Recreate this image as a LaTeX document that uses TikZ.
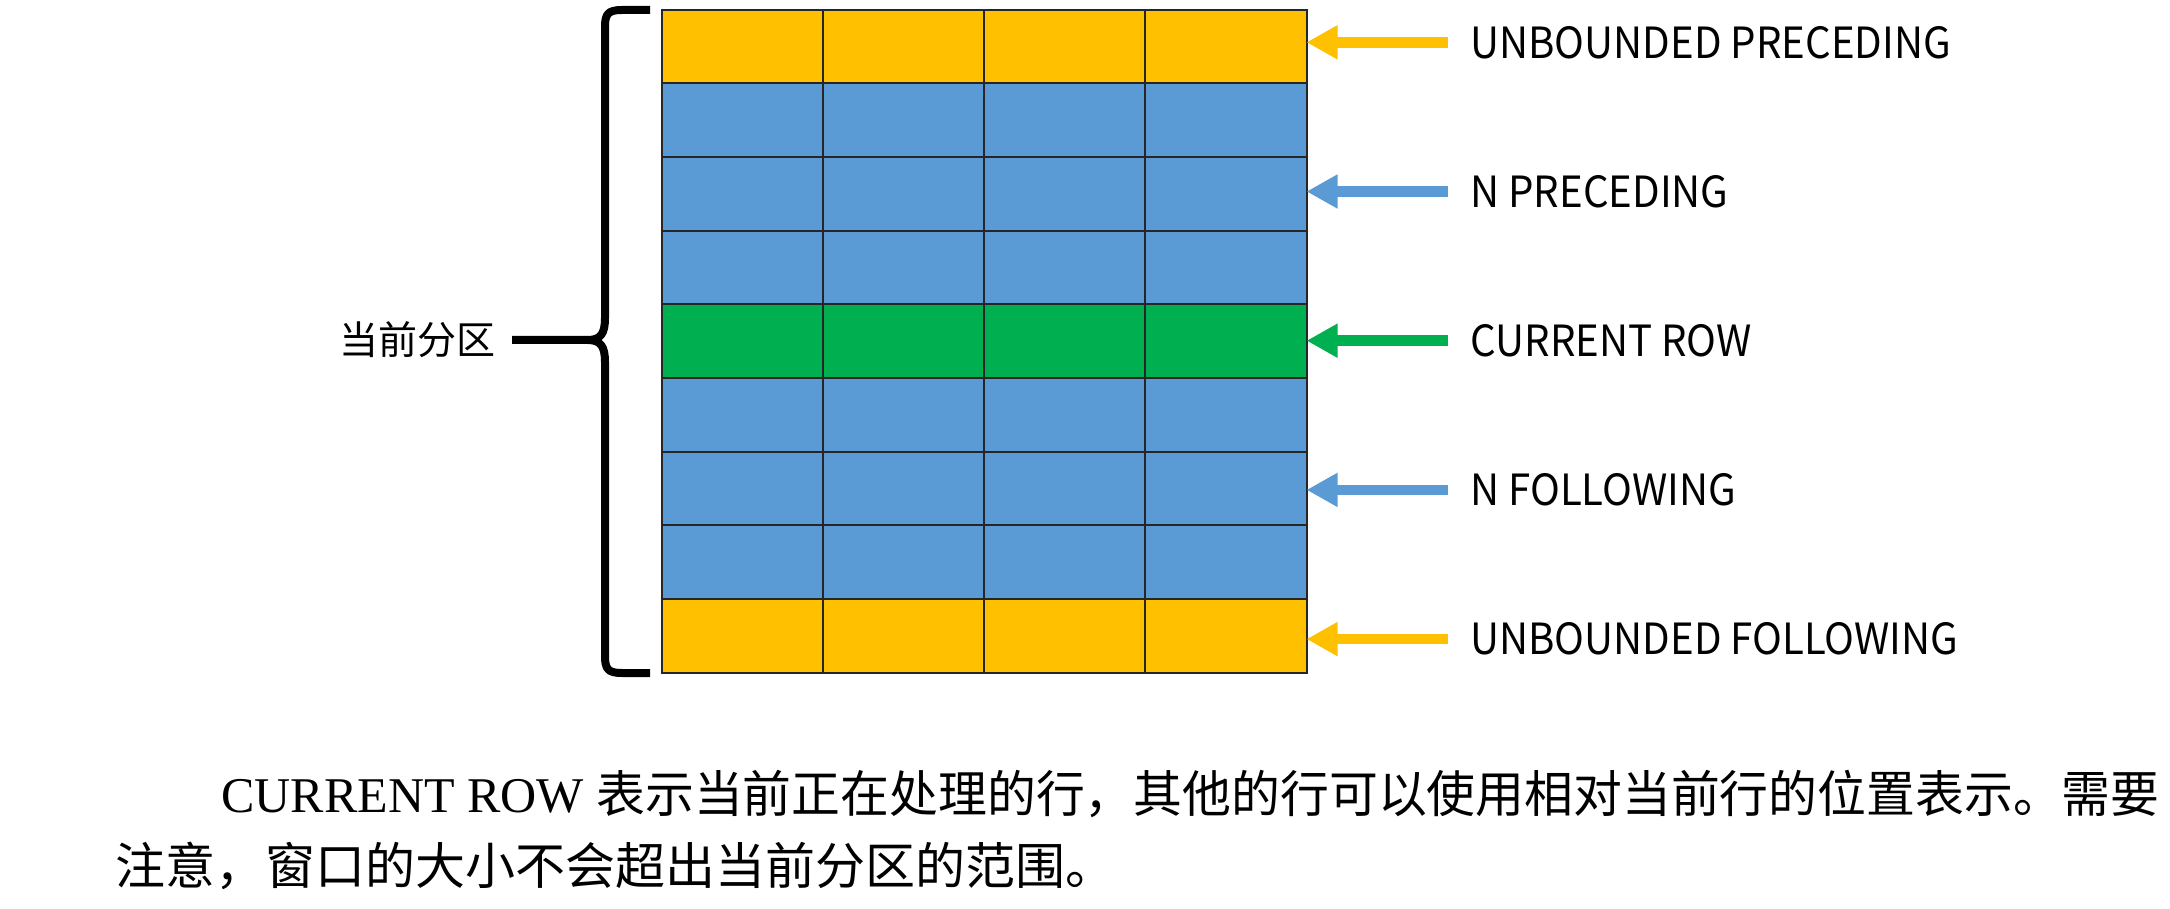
\documentclass[tikz,border=0pt]{standalone}
\usepackage{fontspec}
\setmainfont{Liberation Serif}
\newfontfamily\cjk{Noto Sans CJK SC}
\newfontfamily\cjklbl[FakeStretch=0.935]{Noto Sans CJK SC}
\newfontfamily\cjkbody[FakeStretch=0.977]{Noto Sans CJK SC}
\usetikzlibrary{arrows.meta}
\definecolor{cyellow}{HTML}{FFC000}
\definecolor{cblue}{HTML}{5B9BD5}
\definecolor{cgreen}{HTML}{00B050}
\begin{document}
\begin{tikzpicture}[x=0.5pt,y=-0.5pt,
  cell/.style={draw=black!85, line width=1pt, minimum width=80.625pt, minimum height=36.83pt,
    inner sep=0pt, outer sep=0pt, anchor=north west},
  arr/.style={line width=5.3pt, -{Triangle[length=15.5pt,width=16pt]}},
  lbl/.style={font=\cjklbl\fontsize{21.5pt}{24pt}\selectfont, anchor=west, inner sep=0pt},
  brace/.style={line width=4pt, line join=round},
  body/.style={font=\fontsize{25pt}{30pt}\selectfont, anchor=base west, inner sep=0pt},
]
\useasboundingbox (0,0) rectangle (2170,909);
% grid
\foreach \r/\c in {0/cyellow,1/cblue,2/cblue,3/cblue,4/cgreen,5/cblue,6/cblue,7/cblue,8/cyellow}{
  \foreach \j in {0,...,3}{
    \node[cell,fill=\c] (c\r\j) at ({661.5+161.25*\j},{9.7+73.66*\r}) {};
  }
}
% brace
\coordinate (bt) at (650,10);
\coordinate (bb) at (650,673);
\coordinate (bm) at (512,340);
\draw[brace] (bt) -- (622,10) .. controls (608,10) and (605,14) .. (605,27)
  -- (605,318) .. controls (605,333) and (601,340) .. (588,340) -- (bm);
\draw[brace] (588,340) .. controls (601,340) and (605,347) .. (605,362)
  -- (605,656) .. controls (605,669) and (608,673) .. (622,673) -- (bb);
\node[font=\cjk\fontsize{19.5pt}{22pt}\selectfont, anchor=east, inner sep=0pt] (part) at (496,340) {当前分区};
% labels and arrows
\foreach \r/\k/\c/\t in {0/0/cyellow/UNBOUNDED PRECEDING,2/1/cblue/N PRECEDING,4/2/cgreen/CURRENT ROW,6/3/cblue/N FOLLOWING,8/4/cyellow/UNBOUNDED FOLLOWING}{
  \node[lbl] (l\r) at (1470,{42.3+149.2*\k}) {\t};
  \coordinate (a\r) at (1448,{42.3+149.2*\k});
  \draw[arr,draw=\c,fill=\c] (a\r) -- (c\r3.east |- a\r);
}
% body text
\node[body] (p1) at (221,812) {CURRENT ROW {\cjkbody 表示当前正在处理的行，其他的行可以使用相对当前行的位置表示。需要}};
\node[body] (p2) at (115,884) {{\cjk 注意，窗口的大小不会超出当前分区的范围。}};
\end{tikzpicture}
\end{document}
